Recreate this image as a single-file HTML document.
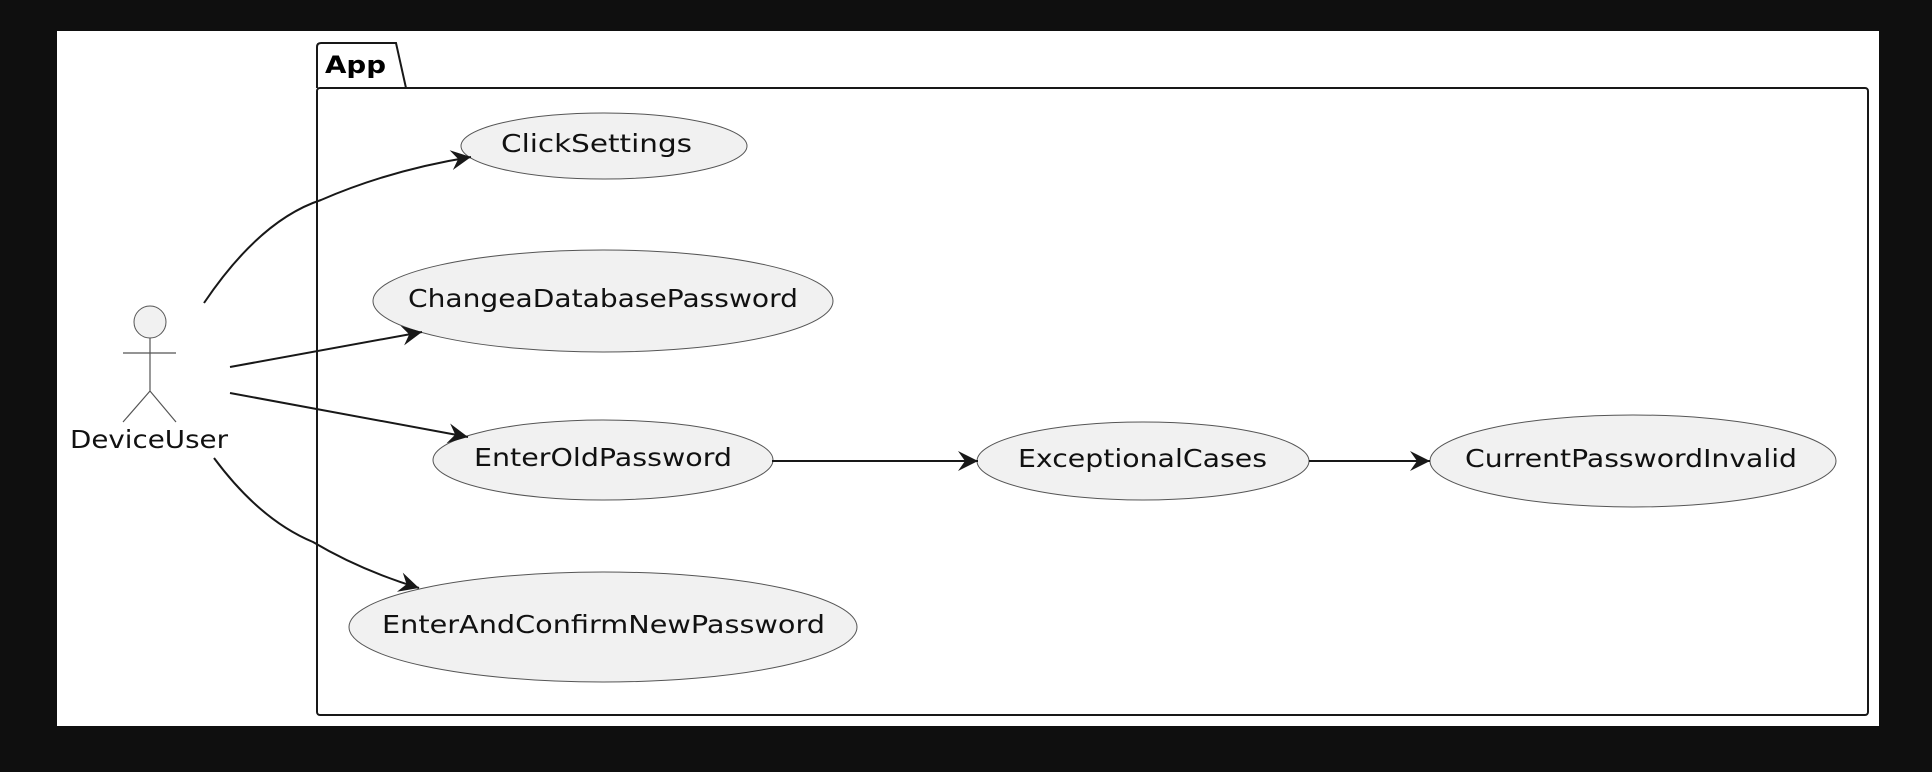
<!DOCTYPE html>
<html><head><meta charset="utf-8"><style>html,body{margin:0;padding:0;background:#0f0f0f;}svg{display:block}</style></head>
<body>
<svg width="1932" height="772" viewBox="0 0 1932 772" xmlns="http://www.w3.org/2000/svg">
<defs>
<marker id="a" viewBox="0 0 24 24" refX="22" refY="12" markerWidth="24" markerHeight="24" markerUnits="userSpaceOnUse" orient="auto">
<path d="M2,2 L22,12 L2,22 L9,12 Z" fill="#181818"/>
</marker>
</defs>
<rect x="57" y="31" width="1822" height="695" fill="#fff"/>
<path d="M317,88 L317,47 Q317,43 321,43 L396,43 L406,88" fill="none" stroke="#181818" stroke-width="2"/>
<rect x="317" y="88" width="1551" height="627" rx="3" fill="none" stroke="#181818" stroke-width="2"/>
<text x="325" y="73" font-family="DejaVu Sans, Liberation Sans, sans-serif" font-weight="bold" font-size="24" textLength="61" lengthAdjust="spacingAndGlyphs">App</text>

<g fill="#f1f1f1" stroke="#555" stroke-width="1">
<ellipse cx="604" cy="146" rx="143" ry="33"/>
<ellipse cx="603" cy="301" rx="230" ry="51"/>
<ellipse cx="603" cy="460" rx="170" ry="40"/>
<ellipse cx="603" cy="627" rx="254" ry="55"/>
<ellipse cx="1143" cy="461" rx="166" ry="39"/>
<ellipse cx="1633" cy="461" rx="203" ry="46"/>
<circle cx="150" cy="322" r="16"/>
</g>
<g stroke="#555" stroke-width="1.2" fill="none">
<path d="M150,338 V391 M123,353 H176 M123,422 L150,391 L176,422"/>
</g>
<g font-family="DejaVu Sans, Liberation Sans, sans-serif" font-size="25" fill="#111">
<text x="70" y="448" textLength="158" lengthAdjust="spacingAndGlyphs">DeviceUser</text>
<text x="501" y="152" textLength="191" lengthAdjust="spacingAndGlyphs">ClickSettings</text>
<text x="408" y="307" textLength="390" lengthAdjust="spacingAndGlyphs">ChangeaDatabasePassword</text>
<text x="474" y="466" textLength="258" lengthAdjust="spacingAndGlyphs">EnterOldPassword</text>
<text x="382" y="633" textLength="443" lengthAdjust="spacingAndGlyphs">EnterAndConfirmNewPassword</text>
<text x="1018" y="467" textLength="249" lengthAdjust="spacingAndGlyphs">ExceptionalCases</text>
<text x="1465" y="467" textLength="332" lengthAdjust="spacingAndGlyphs">CurrentPasswordInvalid</text>
</g>
<g stroke="#181818" stroke-width="2" fill="none" marker-end="url(#a)">
<path d="M204,303 Q260,220 321,200 Q390,170 471,157"/>
<path d="M230,367 L422,332"/>
<path d="M230,393 L468,437"/>
<path d="M214,458 Q260,520 313,542 Q360,570 419,588"/>
<path d="M772,461 L978,461"/>
<path d="M1309,461 L1430,461"/>
</g>
</svg>
</body></html>
